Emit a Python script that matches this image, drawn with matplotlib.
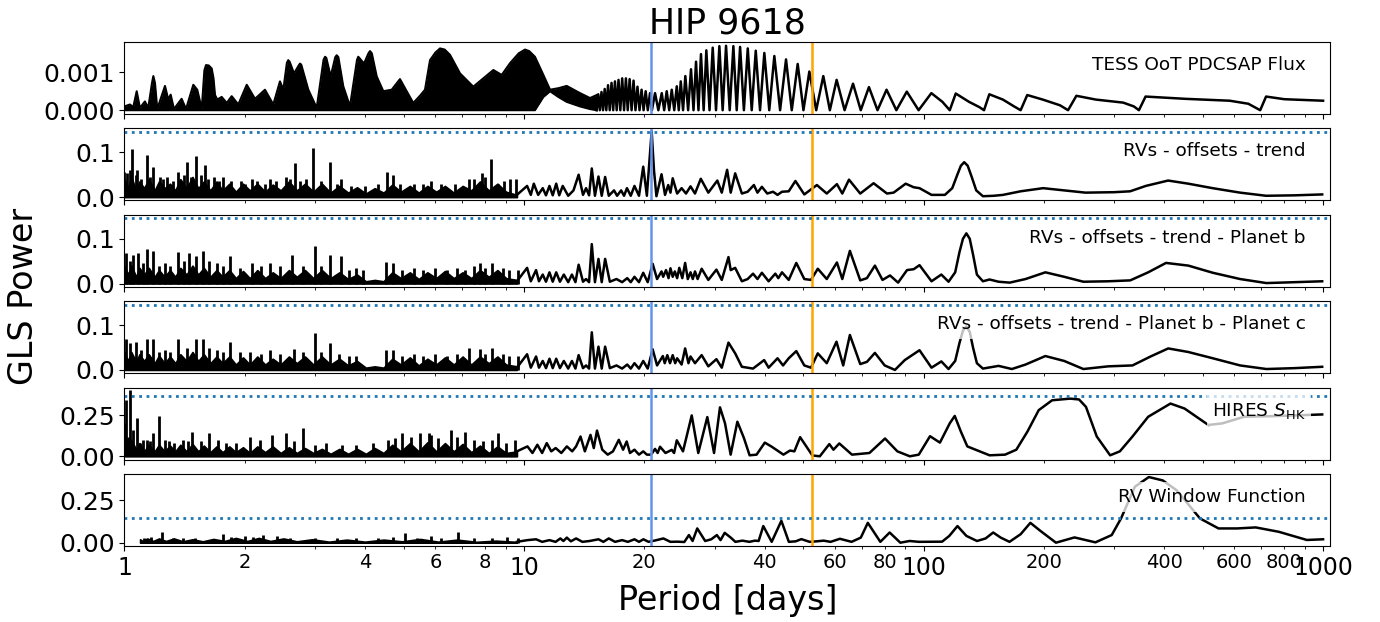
import numpy as np
import matplotlib
matplotlib.use('Agg')
import matplotlib.pyplot as plt
from matplotlib.ticker import FuncFormatter, LogLocator

# ---------------- data ----------------
P_b = 20.77   # planet b period [d]
P_c = 52.56   # planet c period [d]

panel_labels = ["TESS OoT PDCSAP Flux", "RVs - offsets - trend",
                "RVs - offsets - trend - Planet b",
                "RVs - offsets - trend - Planet b - Planet c",
                r"HIRES $S_{\rm HK}$", "RV Window Function"]
fap_levels = [None, 0.146, 0.146, 0.146, 0.368, 0.143]

# TESS periodogram: densely oscillating band (upper / lower envelopes), power in 1e-3
tess_band_P = [1.00, 1.032, 1.052, 1.073, 1.093, 1.125, 1.147, 1.172, 1.181, 1.192,
               1.208, 1.263, 1.287, 1.305, 1.330, 1.390, 1.426, 1.487, 1.521, 1.561,
               1.585, 1.600, 1.625, 1.653, 1.67, 1.685, 1.707, 1.751, 1.803, 1.855,
               1.927, 2.023, 2.122, 2.247, 2.358, 2.450, 2.498, 2.55, 2.570, 2.59,
               2.657, 2.73, 2.750, 2.77, 2.885, 3.028, 3.15, 3.177, 3.2, 3.282,
               3.37, 3.398, 3.43, 3.529, 3.668, 3.82, 3.847, 3.87, 3.977, 4.08,
               4.117, 4.16, 4.279, 4.445, 4.665, 4.893, 5.086, 5.283, 5.491, 5.652,
               5.818, 6.0, 6.163, 6.33, 6.528, 6.916, 7.466, 7.909, 8.380, 8.795,
               9.226, 9.7, 10.06, 10.3, 10.65, 11.18, 11.62, 12.19, 12.79, 13.81,
               14.63, 15.2]
tess_band_hi = [0.10, 0.15, 0.08, 0.50, 0.06, 0.23, 0.06, 0.72, 0.90, 0.72,
                0.03, 0.64, 0.28, 0.41, 0.03, 0.30, 0.03, 0.67, 0.54, 0.03,
                1.05, 1.19, 1.18, 1.10, 0.85, 0.40, 0.28, 0.35, 0.19, 0.37,
                0.15, 0.67, 0.30, 0.54, 0.15, 0.76, 0.54, 1.25, 1.32, 1.28,
                0.97, 1.18, 1.23, 1.20, 0.54, 0.06, 1.33, 1.41, 1.38, 0.89,
                1.40, 1.45, 1.40, 0.63, 0.10, 1.33, 1.41, 1.38, 1.23, 1.50,
                1.56, 1.50, 0.89, 0.50, 0.54, 0.82, 0.50, 0.19, 0.38, 0.54,
                1.32, 1.52, 1.63, 1.60, 1.46, 0.97, 0.62, 0.84, 1.06, 0.93,
                1.24, 1.50, 1.60, 1.56, 1.41, 0.93, 0.54, 0.58, 0.64, 0.45,
                0.32, 0.40]
tess_band_lo = [0.0, 0.0, 0.0, 0.0, 0.0, 0.0, 0.0, 0.0, 0.0, 0.0,
                0.0, 0.0, 0.0, 0.0, 0.0, 0.0, 0.0, 0.0, 0.0, 0.0,
                0.0, 0.0, 0.0, 0.0, 0.0, 0.0, 0.0, 0.0, 0.0, 0.0,
                0.0, 0.0, 0.0, 0.0, 0.0, 0.0, 0.0, 0.0, 0.0, 0.0,
                0.0, 0.0, 0.0, 0.0, 0.0, 0.0, 0.0, 0.0, 0.0, 0.0,
                0.0, 0.0, 0.0, 0.0, 0.0, 0.0, 0.0, 0.0, 0.0, 0.0,
                0.0, 0.0, 0.0, 0.0, 0.0, 0.0, 0.0, 0.0, 0.0, 0.0,
                0.0, 0.0, 0.0, 0.0, 0.0, 0.0, 0.0, 0.0, 0.0, 0.0,
                0.0, 0.0, 0.0, 0.0, 0.0, 0.35, 0.50, 0.35, 0.22, 0.10,
                0.03, 0.0]
# TESS periodogram: resolved oscillations (power in 1e-3)
tess_P = [15.2, 15.34, 15.48, 15.63, 15.77, 15.92, 16.07, 16.23, 16.39, 16.56,
          16.72, 16.89, 17.06, 17.24, 17.42, 17.61, 17.80, 17.99, 18.18, 18.38,
          18.59, 18.80, 19.01, 19.23, 19.46, 19.69, 19.92, 20.16, 20.41,
          20.67, 20.9, 21.28, 21.69, 22.12, 22.43, 22.76, 23.09, 23.43, 23.77,
          24.12, 24.40, 24.68, 25.01, 25.34, 25.75, 26.18, 26.56, 26.95, 27.33,
          27.73, 28.16, 28.60, 29.13, 29.67, 30.24, 30.83, 31.42, 32.04, 32.72,
          33.42, 34.07, 34.74, 35.51, 36.31, 37.15, 38.02, 38.97, 39.95, 41.10,
          42.32, 43.75, 45.27, 46.79, 48.42, 50.05, 51.78, 53.87, 56.12, 58.28,
          60.6, 63.45, 66.6, 69.64, 73.0, 76.7, 80.8, 85.5, 90.8, 97.2,
          104.6, 111.5, 116.3, 120.4, 130, 138, 141.7, 146.1, 158, 168.5,
          175, 181.8, 198.8, 219.5, 230, 241.3, 270, 316, 336, 346,
          359.5, 452, 584, 650, 696, 720, 800, 1000]
tess_pow = [0.0, 0.42, 0.0, 0.48, 0.0, 0.56, 0.0, 0.66, 0.0, 0.72,
            0.0, 0.76, 0.0, 0.80, 0.0, 0.84, 0.0, 0.84, 0.0, 0.82,
            0.0, 0.78, 0.0, 0.62, 0.0, 0.54, 0.0, 0.50, 0.0,
            0.45, 0.0, 0.45, 0.0, 0.45, 0.0, 0.50, 0.0, 0.54, 0.0,
            0.63, 0.0, 0.76, 0.0, 0.90, 0.0, 1.08, 0.0, 1.28, 0.0,
            1.48, 0.0, 1.58, 0.0, 1.65, 0.0, 1.69, 0.0, 1.70, 0.0,
            1.69, 0.0, 1.67, 0.0, 1.63, 0.0, 1.57, 0.0, 1.51, 0.0,
            1.43, 0.0, 1.34, 0.0, 1.22, 0.0, 1.02, 0.0, 0.90, 0.0,
            0.80, 0.0, 0.70, 0.0, 0.61, 0.0, 0.54, 0.0, 0.49, 0.0,
            0.45, 0.22, 0.0, 0.44, 0.22, 0.08, 0.0, 0.42, 0.28, 0.10,
            0.0, 0.40, 0.28, 0.13, 0.0, 0.38, 0.28, 0.20, 0.10, 0.0,
            0.36, 0.30, 0.25, 0.17, 0.0, 0.36, 0.29, 0.25]

# periods at which the jagged top of the dense short-period noise was read (RV and S_HK panels)
env_P = [1.0, 1.02, 1.04, 1.07, 1.09, 1.12, 1.15, 1.19, 1.22, 1.26,
         1.3, 1.34, 1.38, 1.43, 1.48, 1.53, 1.58, 1.64, 1.7, 1.76,
         1.83, 1.9, 1.98, 2.06, 2.15, 2.25, 2.35, 2.46, 2.58, 2.7,
         2.83, 2.97, 3.12, 3.28, 3.45, 3.63, 3.82, 4.02, 4.23, 4.45,
         4.68, 4.92, 5.18, 5.45, 5.73, 6.03, 6.34, 6.67, 7.02, 7.38,
         7.76, 8.16, 8.58, 9.02, 9.6]

# RVs - offsets - trend
rv1_env = [0.04, 0.02, 0.045, 0.015, 0.035, 0.02, 0.04, 0.015, 0.035, 0.02,
           0.03, 0.015, 0.04, 0.02, 0.045, 0.02, 0.035, 0.015, 0.035, 0.015,
           0.03, 0.012, 0.03, 0.015, 0.03, 0.012, 0.028, 0.015, 0.035, 0.015,
           0.03, 0.012, 0.03, 0.01, 0.025, 0.01, 0.022, 0.008, 0.02, 0.01,
           0.028, 0.012, 0.025, 0.01, 0.025, 0.012, 0.025, 0.01, 0.025, 0.015,
           0.035, 0.015, 0.03, 0.012, 0.005]
rv1_spike_P = [1.0, 1.013, 1.03, 1.046, 1.066, 1.073, 1.1, 1.136, 1.16, 1.18, 1.229, 1.25, 1.275,
               1.32, 1.36, 1.41, 1.436, 1.47, 1.51, 1.55, 1.593, 1.62, 1.675, 1.72, 1.768, 1.85,
               1.954, 2.0, 2.08, 2.15, 2.25, 2.31, 2.4, 2.53, 2.6, 2.67, 2.75, 2.85, 2.97, 3.1,
               3.27, 3.4, 3.49, 3.7, 4.0, 4.3, 4.53, 4.7, 4.9, 5.3, 5.6, 5.85, 6.2, 6.7, 7.29,
               7.5, 7.87, 8.0, 8.29, 8.6, 8.9, 9.2, 9.54]
rv1_spike = [0.055, 0.053, 0.06, 0.107, 0.05, 0.06, 0.04, 0.095, 0.045, 0.068, 0.045, 0.04, 0.045,
             0.035, 0.057, 0.05, 0.078, 0.045, 0.092, 0.05, 0.072, 0.04, 0.045, 0.035, 0.045, 0.035,
             0.035, 0.03, 0.04, 0.035, 0.03, 0.04, 0.035, 0.045, 0.04, 0.077, 0.035, 0.04, 0.11, 0.035,
             0.079, 0.03, 0.04, 0.025, 0.025, 0.03, 0.055, 0.05, 0.03, 0.03, 0.03, 0.035, 0.03, 0.03,
             0.04, 0.04, 0.053, 0.045, 0.085, 0.03, 0.035, 0.04, 0.04]
rv1_P = [9.6, 10.18, 10.4, 10.58, 10.85, 11.14, 11.35, 11.58, 11.8, 12.04, 12.25, 12.5, 12.9, 13.3,
         13.7, 14.05, 14.3, 14.55, 14.78, 15.05, 15.36, 15.65, 15.96, 16.3, 16.8, 17.1, 17.5, 17.8,
         18.1, 18.5, 18.9, 19.4, 19.88, 20.3, 20.6, 20.87, 21.15, 21.45, 22.09, 22.54, 22.96, 23.26,
         23.56, 24.17, 24.80, 25.44, 26.11, 26.79, 27.70, 28.93, 30.47, 31.26, 32.24, 32.91, 33.77,
         35.10, 36.29, 37.62, 38.40, 39.39, 40.63, 42.01, 43.11, 44.23, 45.98, 47.79, 50.30, 54.08,
         57.25, 60.70, 62.61, 65.07, 69.43, 74.99, 81.0, 84.15, 90.22, 94.5, 97.7, 104.7, 113.1, 118,
         121.5, 124, 126.4, 129, 132, 135.5, 140.8, 150, 158.1, 175, 199.2, 225, 254.3, 300, 329.0,
         360, 409.4, 460, 529.0, 620, 720.0, 850, 994.9]
rv1_pow = [0.005, 0.025, 0.005, 0.03, 0.005, 0.02, 0.004, 0.025, 0.004, 0.03, 0.004, 0.025, 0.003,
           0.015, 0.05, 0.005, 0.02, 0.004, 0.064, 0.003, 0.046, 0.003, 0.045, 0.003, 0.015, 0.003,
           0.015, 0.003, 0.02, 0.003, 0.025, 0.003, 0.068, 0.003, 0.08, 0.147, 0.06, 0.002, 0.051,
           0.005, 0.027, 0.01, 0.042, 0.008, 0.02, 0.008, 0.024, 0.008, 0.041, 0.01, 0.037, 0.01,
           0.061, 0.01, 0.053, 0.008, 0.012, 0.027, 0.01, 0.023, 0.008, 0.012, 0.005, 0.012, 0.013,
           0.036, 0.006, 0.027, 0.008, 0.029, 0.008, 0.039, 0.008, 0.031, 0.008, 0.01, 0.03, 0.022,
           0.02, 0.005, 0.005, 0.02, 0.05, 0.07, 0.078, 0.07, 0.045, 0.015, 0.002, 0.003, 0.005,
           0.013, 0.02, 0.015, 0.01, 0.011, 0.013, 0.025, 0.037, 0.03, 0.02, 0.01, 0.003, 0.004, 0.006]

# RVs - offsets - trend - Planet b
rv2_env = [0.04, 0.02, 0.04, 0.015, 0.035, 0.02, 0.035, 0.015, 0.03, 0.015,
           0.03, 0.015, 0.035, 0.02, 0.04, 0.02, 0.035, 0.015, 0.03, 0.015,
           0.03, 0.012, 0.028, 0.012, 0.03, 0.012, 0.025, 0.012, 0.03, 0.015,
           0.03, 0.012, 0.03, 0.012, 0.025, 0.01, 0.02, 0.005, 0.008, 0.005,
           0.025, 0.012, 0.025, 0.01, 0.025, 0.012, 0.028, 0.012, 0.025, 0.012,
           0.03, 0.015, 0.03, 0.012, 0.008]
rv2_spike_P = [1.008, 1.03, 1.053, 1.08, 1.11, 1.137, 1.182, 1.22, 1.26, 1.3, 1.363, 1.41, 1.453,
               1.511, 1.57, 1.63, 1.7, 1.76, 1.833, 1.95, 2.085, 2.2, 2.311, 2.45, 2.632, 2.8, 2.99,
               3.1, 3.277, 3.492, 3.65, 3.8, 3.95, 4.515, 4.699, 4.95, 5.3, 5.6, 6.0, 6.4, 6.8,
               7.104, 7.5, 7.769, 8.0, 8.294, 8.84, 9.18, 9.67]
rv2_spike = [0.068, 0.05, 0.064, 0.068, 0.045, 0.076, 0.072, 0.04, 0.045, 0.04, 0.07, 0.05, 0.068,
             0.061, 0.072, 0.05, 0.045, 0.04, 0.062, 0.035, 0.045, 0.04, 0.045, 0.04, 0.064, 0.04,
             0.084, 0.04, 0.064, 0.061, 0.03, 0.035, 0.03, 0.047, 0.045, 0.03, 0.035, 0.03, 0.035,
             0.03, 0.035, 0.031, 0.04, 0.046, 0.035, 0.046, 0.035, 0.03, 0.03]
rv2_P = [9.6, 10.18, 10.4, 10.72, 10.9, 11.14, 11.35, 11.58, 11.8, 12.04, 12.3, 12.58, 12.9, 13.18,
         13.45, 13.7, 14.05, 14.3, 14.55, 14.78, 15.05, 15.36, 15.65, 15.96, 16.4, 17.04, 17.6,
         18.13, 18.5, 18.9, 19.4, 19.88, 20.4, 20.99, 21.53, 22.09, 22.3, 22.67, 23.0, 23.26, 23.56,
         23.85, 24.17, 24.47, 24.9, 25.31, 25.7, 26.11, 26.45, 26.79, 27.2, 27.84, 28.93, 30.31,
         31.26, 32.49, 32.91, 33.77, 35.10, 36.29, 37.43, 38.4, 39.39, 40.95, 42.56, 43.3, 44.23,
         45.98, 48.03, 50.30, 52.28, 54.36, 57.25, 60.70, 62.61, 65.41, 69.43, 72.16, 75.56, 78.93,
         82.44, 86.36, 90.92, 94.5, 97.7, 104.7, 110.8, 115.5, 120, 123, 125.5, 128.0, 130.5, 133,
         136, 140.8, 146.3, 154.1, 164.3, 180, 201.8, 225, 251.2, 290, 329.1, 365, 404.5, 460, 529.7,
         620, 721.4, 850, 994.9]
rv2_pow = [0.005, 0.035, 0.005, 0.03, 0.005, 0.02, 0.004, 0.025, 0.004, 0.025, 0.004, 0.02, 0.003,
           0.02, 0.003, 0.042, 0.004, 0.01, 0.003, 0.088, 0.003, 0.055, 0.003, 0.055, 0.004, 0.01,
           0.003, 0.012, 0.003, 0.015, 0.003, 0.024, 0.003, 0.044, 0.01, 0.027, 0.015, 0.03, 0.012,
           0.034, 0.015, 0.027, 0.012, 0.035, 0.012, 0.046, 0.01, 0.025, 0.01, 0.027, 0.01, 0.033,
           0.008, 0.031, 0.008, 0.059, 0.03, 0.035, 0.005, 0.01, 0.022, 0.01, 0.024, 0.005, 0.022,
           0.012, 0.025, 0.008, 0.046, 0.01, 0.008, 0.033, 0.01, 0.047, 0.01, 0.073, 0.007, 0.012,
           0.04, 0.008, 0.018, 0.002, 0.03, 0.032, 0.041, 0.005, 0.02, 0.004, 0.025, 0.07, 0.1,
           0.112, 0.1, 0.065, 0.02, 0.005, 0.009, 0.004, 0.002, 0.01, 0.025, 0.015, 0.004, 0.005,
           0.007, 0.025, 0.046, 0.04, 0.024, 0.01, 0.001, 0.003, 0.005]

# RVs - offsets - trend - Planet b - Planet c
rv3_env = [0.04, 0.02, 0.04, 0.018, 0.035, 0.02, 0.035, 0.015, 0.032, 0.015,
           0.03, 0.015, 0.035, 0.02, 0.04, 0.02, 0.035, 0.015, 0.03, 0.015,
           0.03, 0.012, 0.028, 0.012, 0.03, 0.012, 0.025, 0.012, 0.03, 0.015,
           0.03, 0.012, 0.03, 0.012, 0.025, 0.01, 0.02, 0.005, 0.008, 0.005,
           0.025, 0.012, 0.028, 0.01, 0.025, 0.012, 0.028, 0.012, 0.03, 0.012,
           0.03, 0.015, 0.03, 0.012, 0.008]
rv3_spike_P = [1.008, 1.03, 1.066, 1.1, 1.137, 1.182, 1.22, 1.26, 1.3, 1.363, 1.435, 1.511, 1.57,
               1.63, 1.7, 1.76, 1.833, 1.95, 2.058, 2.2, 2.311, 2.45, 2.664, 2.8, 2.99, 3.1, 3.277,
               3.45, 3.65, 3.8, 4.515, 4.699, 4.95, 5.3, 5.6, 6.0, 6.4, 6.8, 7.285, 7.769, 8.0,
               8.294, 8.84, 9.18, 9.67]
rv3_spike = [0.07, 0.06, 0.063, 0.045, 0.068, 0.07, 0.04, 0.045, 0.04, 0.07, 0.05, 0.068, 0.07,
             0.05, 0.045, 0.04, 0.063, 0.04, 0.04, 0.035, 0.045, 0.035, 0.046, 0.04, 0.083, 0.04,
             0.061, 0.035, 0.03, 0.03, 0.044, 0.045, 0.03, 0.035, 0.03, 0.035, 0.03, 0.035, 0.05,
             0.047, 0.035, 0.048, 0.035, 0.03, 0.03]
rv3_P = [9.6, 10.18, 10.4, 10.72, 10.9, 11.14, 11.35, 11.58, 11.8, 12.04, 12.3, 12.58, 12.9, 13.18,
         13.45, 13.7, 14.05, 14.3, 14.55, 14.78, 15.05, 15.36, 15.65, 15.96, 16.4, 17.04, 17.6,
         18.13, 18.5, 18.9, 19.4, 19.88, 20.4, 20.99, 21.53, 22.26, 22.5, 22.84, 23.2, 23.56, 23.9,
         24.17, 24.8, 25.31, 25.8, 26.11, 26.79, 27.84, 28.93, 30.31, 31.26, 32.49, 33.77, 35.10,
         37.43, 39.91, 40.95, 43.11, 44.5, 45.98, 48.03, 50.30, 52.28, 54.36, 57.25, 60.55, 62.94,
         65.41, 69.43, 72.16, 75.56, 79.95, 84.8, 89.76, 97.7, 104.7, 110.8, 115.5, 120, 123, 125.5,
         128.0, 130.5, 133, 136, 140.8, 154.1, 166.4, 180, 201.8, 225, 251.2, 290, 333.4, 370,
         409.7, 460, 529.7, 620, 721.4, 850, 994.9]
rv3_pow = [0.005, 0.035, 0.005, 0.03, 0.005, 0.02, 0.004, 0.025, 0.004, 0.025, 0.004, 0.02, 0.003,
           0.02, 0.003, 0.033, 0.004, 0.01, 0.003, 0.084, 0.003, 0.052, 0.003, 0.052, 0.004, 0.01,
           0.003, 0.012, 0.003, 0.015, 0.003, 0.02, 0.003, 0.046, 0.01, 0.031, 0.015, 0.033, 0.015,
           0.033, 0.015, 0.026, 0.012, 0.048, 0.015, 0.03, 0.015, 0.033, 0.008, 0.024, 0.005, 0.061,
           0.037, 0.007, 0.003, 0.022, 0.005, 0.026, 0.01, 0.026, 0.042, 0.01, 0.005, 0.037, 0.015,
           0.063, 0.01, 0.078, 0.013, 0.018, 0.038, 0.01, 0.0, 0.022, 0.044, 0.005, 0.019, 0.002,
           0.02, 0.06, 0.088, 0.097, 0.085, 0.05, 0.015, 0.003, 0.009, 0.002, 0.012, 0.031, 0.02,
           0.002, 0.008, 0.01, 0.03, 0.048, 0.04, 0.026, 0.01, 0.002, 0.004, 0.007]

# HIRES S_HK
hk_env = [0.12, 0.05, 0.1, 0.04, 0.08, 0.03, 0.07, 0.03, 0.07, 0.03,
          0.065, 0.03, 0.07, 0.03, 0.075, 0.03, 0.065, 0.025, 0.06, 0.025,
          0.06, 0.025, 0.055, 0.02, 0.06, 0.025, 0.06, 0.02, 0.055, 0.02,
          0.05, 0.02, 0.045, 0.015, 0.045, 0.015, 0.045, 0.015, 0.05, 0.02,
          0.07, 0.03, 0.08, 0.03, 0.085, 0.03, 0.08, 0.03, 0.075, 0.025,
          0.065, 0.02, 0.06, 0.02, 0.03]
hk_spike_P = [1.003, 1.008, 1.02, 1.034, 1.053, 1.072, 1.094, 1.115, 1.137, 1.16, 1.182, 1.22,
              1.261, 1.294, 1.33, 1.398, 1.44, 1.472, 1.55, 1.632, 1.718, 1.8, 1.9, 2.058, 2.184,
              2.342, 2.53, 2.65, 2.805, 3.0, 3.2, 3.5, 3.8, 4.2, 4.575, 4.75, 4.946, 5.2, 5.486,
              5.771, 5.845, 6.1, 6.57, 6.8, 7.104, 7.5, 7.9, 8.3, 8.626, 9.0, 9.5]
hk_spike = [0.2, 0.34, 0.12, 0.40, 0.16, 0.23, 0.08, 0.1, 0.1, 0.09, 0.14, 0.244, 0.1, 0.09, 0.08,
            0.1, 0.09, 0.15, 0.09, 0.14, 0.1, 0.08, 0.08, 0.12, 0.1, 0.13, 0.14, 0.09, 0.17, 0.07,
            0.08, 0.07, 0.07, 0.08, 0.1, 0.11, 0.14, 0.12, 0.14, 0.14, 0.13, 0.11, 0.16, 0.12, 0.15,
            0.1, 0.09, 0.1, 0.14, 0.08, 0.1]
hk_P = [9.6, 10.2, 10.5, 10.8, 11.1, 11.4, 11.7, 12.0, 12.4, 12.8, 13.2, 13.5, 13.85, 14.2, 14.67,
        14.95, 15.23, 15.7, 16.2, 16.7, 17.27, 17.7, 18.07, 18.42, 18.9, 19.4, 19.88, 20.3, 20.8,
        21.28, 21.6, 21.9, 22.6, 23.43, 23.75, 24.12, 25.0, 26.29, 27.3, 28.76, 29.9, 30.94, 31.85,
        32.9, 34.2, 35.5, 36.7, 38.2, 40.06, 41.7, 44.6, 46.33, 47.5, 49.1, 52.7, 55.0, 58.1, 59.5,
        61.54, 66.2, 73.2, 80.1, 86, 92.4, 97.3, 103.8, 109.9, 116.3, 119.7, 124, 128.7, 146.3,
        160, 170.7, 182, 194.2, 209.8, 232.6, 245, 255, 271.4, 293.1, 310, 333.4, 365, 415, 450,
        516.3, 560, 634.2, 759.4, 994.9]
hk_pow = [0.03, 0.06, 0.02, 0.07, 0.02, 0.08, 0.03, 0.05, 0.02, 0.06, 0.03, 0.06, 0.12, 0.03,
          0.13, 0.05, 0.156, 0.04, 0.01, 0.03, 0.1, 0.04, 0.09, 0.02, 0.04, 0.01, 0.03, 0.01, 0.01,
          0.045, 0.02, 0.058, 0.02, 0.039, 0.02, 0.097, 0.03, 0.248, 0.02, 0.238, 0.02, 0.297, 0.2,
          0.01, 0.21, 0.112, 0.006, 0.01, 0.083, 0.058, 0.01, 0.035, 0.03, 0.116, 0.005, 0.0,
          0.074, 0.04, 0.078, 0.01, 0.02, 0.108, 0.03, 0.0, 0.01, 0.122, 0.083, 0.2, 0.245, 0.15,
          0.06, 0.006, 0.01, 0.04, 0.15, 0.28, 0.34, 0.35, 0.345, 0.3, 0.12, 0.006, 0.03, 0.12,
          0.24, 0.32, 0.29, 0.19, 0.2, 0.24, 0.244, 0.254]

# RV window function
win_env_P = [1.094, 1.11, 1.14, 1.18, 1.22, 1.27, 1.33, 1.4, 1.48, 1.57,
             1.67, 1.78, 1.9, 2.03, 2.17, 2.32, 2.5, 2.7, 2.95, 3.25,
             3.6, 4.0, 4.45, 4.95, 5.5, 6.1, 6.8, 7.6, 8.5, 9.6]
win_env = [0.02, 0.01, 0.025, 0.01, 0.025, 0.01, 0.025, 0.008, 0.02, 0.008,
           0.022, 0.01, 0.028, 0.01, 0.028, 0.01, 0.025, 0.008, 0.02, 0.006,
           0.018, 0.006, 0.018, 0.008, 0.022, 0.006, 0.018, 0.005, 0.012, 0.005]
win_spike_P = [1.12, 1.167, 1.245, 1.32, 1.398, 1.5, 1.763, 1.85, 2.006, 2.1, 2.224, 2.402, 2.6,
               3.0, 3.4, 3.8, 4.3, 4.7, 5.05, 5.4, 5.845, 6.2, 6.82, 7.5, 8.3, 9.06, 9.67]
win_spike = [0.03, 0.035, 0.064, 0.03, 0.03, 0.025, 0.05, 0.035, 0.04, 0.035, 0.045, 0.04, 0.03,
             0.025, 0.03, 0.025, 0.03, 0.035, 0.058, 0.03, 0.04, 0.025, 0.064, 0.025, 0.025, 0.035,
             0.03]
win_P = [9.6, 10.2, 10.72, 11.1, 11.58, 12.0, 12.33, 12.55, 12.8, 13.1, 13.5, 14.0, 14.6, 15.36,
         15.8, 16.3, 16.9, 17.6, 18.2, 18.9, 19.4, 19.9, 20.5, 21.2, 22.33, 23.24, 24.19, 25.19,
         25.87, 26.42, 27.14, 28.41, 29.42, 30.39, 31.04, 31.79, 32.92, 33.81, 35.2, 36.64, 37.84,
         38.66, 39.71, 41.68, 44.07, 46.01, 47.88, 49.44, 51.87, 54.0, 56.23, 58.53, 61.75, 66.04,
         69.67, 72.53, 77.96, 82.26, 87.48, 92.29, 97.36, 111.3, 116, 121.6, 128, 136.1, 143, 149.4,
         156, 164.1, 175, 185.1, 196, 214.5, 238.7, 269.3, 295.8, 312.1, 338.1, 366.4, 397.0, 430.1,
         491.9, 547.4, 609.4, 678.3, 775.4, 910.7, 1000]
win_pow = [0.005, 0.015, 0.02, 0.005, 0.015, 0.005, 0.025, 0.01, 0.03, 0.008, 0.025, 0.005, 0.01,
           0.02, 0.005, 0.025, 0.005, 0.015, 0.005, 0.02, 0.005, 0.02, 0.005, 0.012, 0.025, 0.005,
           0.006, 0.004, 0.045, 0.01, 0.084, 0.01, 0.02, 0.045, 0.015, 0.058, 0.03, 0.005, 0.012,
           0.005, 0.012, 0.01, 0.098, 0.005, 0.129, 0.005, 0.008, 0.021, 0.005, 0.008, 0.012, 0.005,
           0.023, 0.005, 0.03, 0.117, 0.005, 0.06, 0.0, 0.01, 0.005, 0.006, 0.04, 0.098, 0.04, 0.01,
           0.025, 0.06, 0.03, 0.005, 0.05, 0.117, 0.07, 0.0, 0.031, 0.002, 0.045, 0.143, 0.33,
           0.387, 0.367, 0.309, 0.143, 0.084, 0.084, 0.09, 0.064, 0.016, 0.02]

ylims = [(-0.0001, 0.0018), (-0.0073, 0.1535), (-0.0073, 0.1535), (-0.0073, 0.1535),
         (-0.020, 0.417), (-0.0195, 0.405)]
yticks = [[0.0, 0.001], [0.0, 0.1], [0.0, 0.1], [0.0, 0.1], [0.0, 0.25], [0.0, 0.25]]
yticklabels = [['0.000', '0.001'], ['0.0', '0.1'], ['0.0', '0.1'], ['0.0', '0.1'],
               ['0.00', '0.25'], ['0.00', '0.25']]

# ---------------- figure ----------------
fig, axes = plt.subplots(6, 1, figsize=(13.8, 6.22), dpi=100, sharex=True)
fig.subplots_adjust(left=0.0902, right=0.9638, top=0.9325, bottom=0.1222, hspace=0.2)

LW = 1.8
# TESS panel
ax = axes[0]
hi = np.array(tess_band_hi) * 1e-3
lo = np.array(tess_band_lo) * 1e-3
ax.fill_between(tess_band_P, lo, hi, color='k', lw=0)
ax.plot(tess_band_P, hi, color='k', lw=1.5)
ax.plot(tess_band_P, lo, color='k', lw=1.5)
ax.plot(tess_P, np.array(tess_pow) * 1e-3, color='k', lw=LW)

dense = [(env_P, rv1_env, rv1_spike_P, rv1_spike, rv1_P, rv1_pow),
         (env_P, rv2_env, rv2_spike_P, rv2_spike, rv2_P, rv2_pow),
         (env_P, rv3_env, rv3_spike_P, rv3_spike, rv3_P, rv3_pow),
         (env_P, hk_env, hk_spike_P, hk_spike, hk_P, hk_pow),
         (win_env_P, win_env, win_spike_P, win_spike, win_P, win_pow)]
for ax, (eP, ev, sP, sv, lP, lv) in zip(axes[1:], dense):
    ax.fill_between(eP, 0, ev, color='k', lw=1.2)
    ax.vlines(sP, 0, sv, color='k', lw=2.0)
    ax.plot(lP, lv, color='k', lw=LW)

for i, ax in enumerate(axes):
    ax.set_xscale('log')
    ax.axvline(P_b, color='cornflowerblue', lw=1.8)
    ax.axvline(P_c, color='orange', lw=1.8)
    if fap_levels[i] is not None:
        ax.axhline(fap_levels[i], color='#1f77b4', ls=':', lw=2)
    ax.set_ylim(*ylims[i])
    ax.set_yticks(yticks[i])
    ax.set_yticklabels(yticklabels[i])
    ax.tick_params(axis='y', labelsize=18)
    ax.text(0.98, 0.68, panel_labels[i], transform=ax.transAxes, ha='right', va='center',
            fontsize=13.3, bbox=dict(facecolor='white', alpha=0.75, edgecolor='none'))

axes[0].set_xlim(1, 1041)
axes[-1].xaxis.set_major_locator(LogLocator(base=10, numticks=10))
axes[-1].xaxis.set_minor_locator(LogLocator(base=10, subs=np.arange(2, 10), numticks=30))


def major_fmt(x, pos):
    return f'{int(round(x))}'


def minor_fmt(x, pos):
    mant = x / 10 ** np.floor(np.log10(x) + 1e-9)
    return f'{int(round(x))}' if int(round(mant)) in (2, 4, 6, 8) else ''


axes[-1].xaxis.set_major_formatter(FuncFormatter(major_fmt))
axes[-1].xaxis.set_minor_formatter(FuncFormatter(minor_fmt))
axes[-1].tick_params(axis='x', which='major', labelsize=17)
axes[-1].tick_params(axis='x', which='minor', labelsize=14)

axes[0].set_title('HIP 9618', fontsize=25)
fig.text(0.527, 0.035, 'Period [days]', ha='center', va='center', fontsize=24)
fig.text(0.017, 0.523, 'GLS Power', ha='center', va='center', rotation=90, fontsize=24)

fig.savefig('out.png', dpi=100)
